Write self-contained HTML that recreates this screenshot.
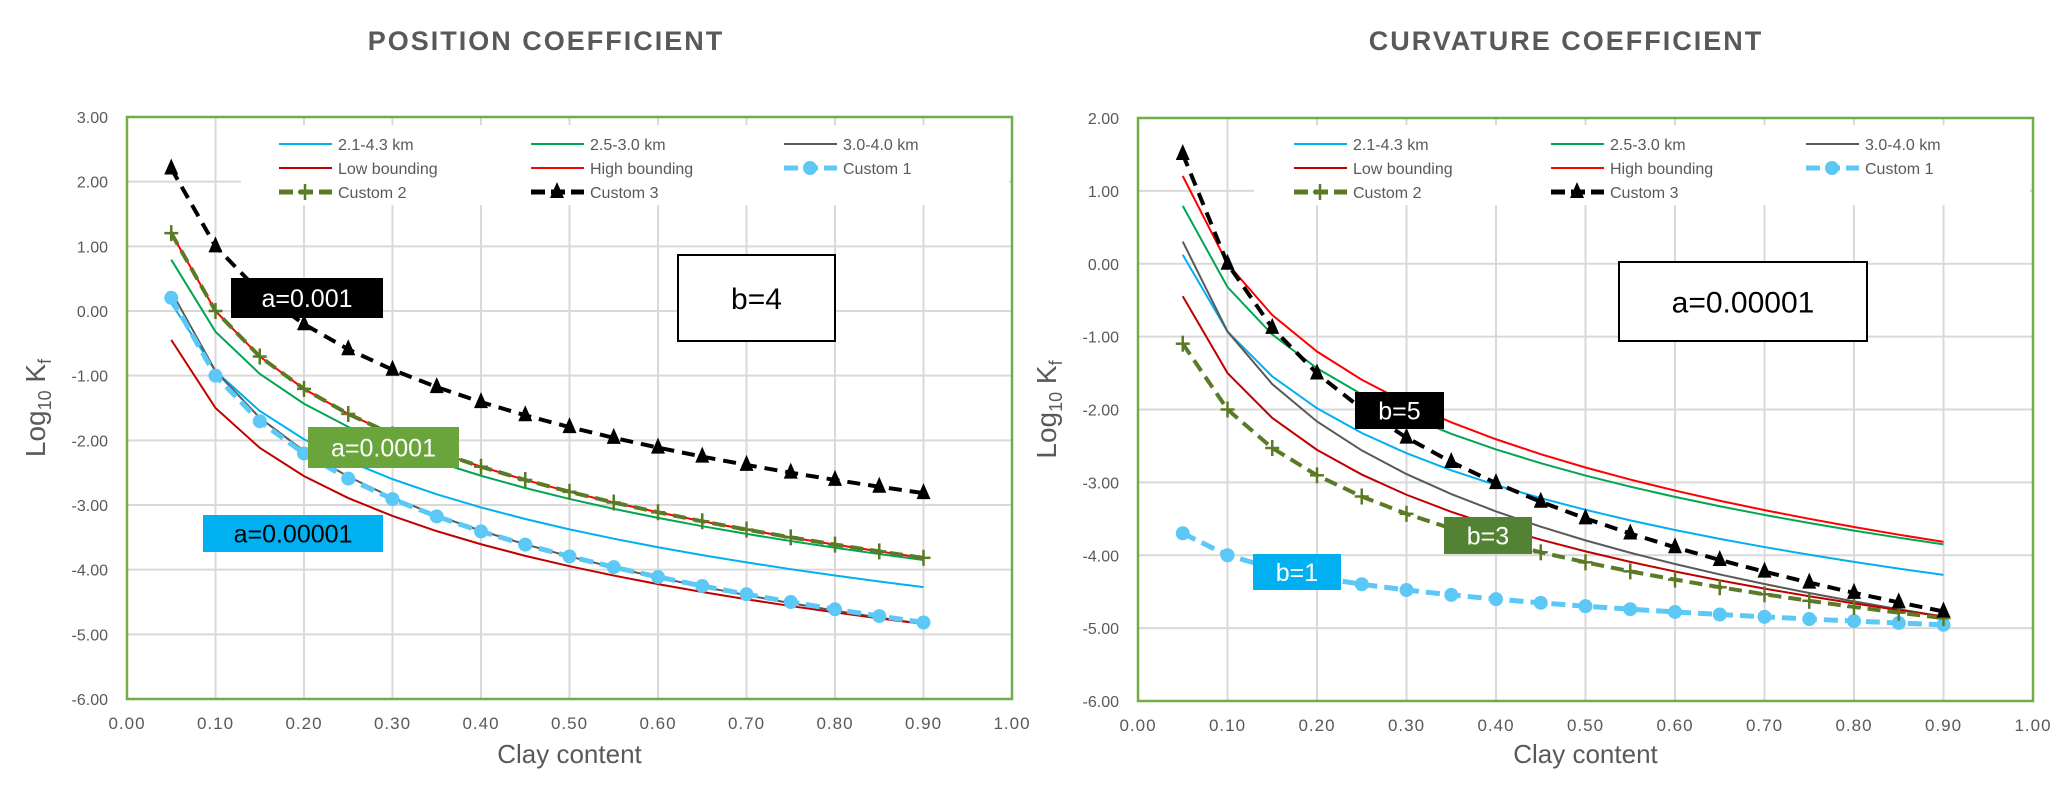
<!DOCTYPE html>
<html><head><meta charset="utf-8">
<style>
html,body{margin:0;padding:0;background:#fff;}
svg{display:block;font-family:"Liberation Sans",sans-serif;}
</style></head>
<body>
<svg id="s" width="2062" height="787" viewBox="0 0 2062 787" xmlns="http://www.w3.org/2000/svg">
<text x="546" y="50" text-anchor="middle" font-size="27" font-weight="bold" fill="#595959" letter-spacing="2">POSITION  COEFFICIENT</text>
<text x="1566" y="50" text-anchor="middle" font-size="27" font-weight="bold" fill="#595959" letter-spacing="2">CURVATURE  COEFFICIENT</text>
</svg>
<script>
const S=document.getElementById('s');const NS='http://www.w3.org/2000/svg';
function el(t,a,txt){const e=document.createElementNS(NS,t);for(const k in a)e.setAttribute(k,a[k]);if(txt!==undefined)e.textContent=txt;S.appendChild(e);return e;}
const lg=Math.log10;
function chart(c){
 const X=v=>c.x0+(c.x1-c.x0)*v, Y=v=>c.yt+(c.yb-c.yt)*(c.ymax-v)/(c.ymax-c.ymin);
 for(let i=0;i<=10;i++){const x=X(i/10);el('line',{x1:x,x2:x,y1:c.yt,y2:c.yb,stroke:'#d9d9d9','stroke-width':2});
  el('text',{x:x,y:c.yb+30,'text-anchor':'middle','font-size':17,fill:'#595959','letter-spacing':'1'},(i/10).toFixed(2));}
 for(let v=c.ymin;v<=c.ymax;v++){const y=Y(v);el('line',{x1:c.x0,x2:c.x1,y1:y,y2:y,stroke:'#d9d9d9','stroke-width':2});
  el('text',{x:c.x0-19,y:y+6,'text-anchor':'end','font-size':16,fill:'#595959'},v.toFixed(2));}
 el('rect',{x:c.lgx,y:125,width:c.x1-c.lgx-3,height:80,fill:'#fff'});
 const xs=[];for(let i=1;i<=18;i++)xs.push(i*0.05);
 const thin=[['#00b0f0',-4.43,3.5],['#00a651',-4.02,3.7],['#595959',-5.03,4.1],['#c00000',-5,3.5],['#ff0000',-4,4]];
 thin.forEach(t=>el('polyline',{points:xs.map(x=>X(x)+','+Y(t[1]-t[2]*lg(x))).join(' '),fill:'none',stroke:t[0],'stroke-width':2}));
 c.cust.forEach(cu=>{
  const pts=xs.map(x=>[X(x),Y(lg(cu.a)-cu.b*lg(x))]);
  el('polyline',{points:pts.map(p=>p.join(',')).join(' '),fill:'none',stroke:cu.col,'stroke-width':cu.w,'stroke-dasharray':cu.da});
  pts.forEach(p=>marker(cu.m,p[0],p[1],cu.col));
 });
 el('rect',{x:c.x0,y:c.yt,width:c.x1-c.x0,height:c.yb-c.yt,fill:'none',stroke:'#70ad47','stroke-width':2.5});
 // legend
 const L=[['2.1-4.3 km','#00b0f0','t'],['2.5-3.0 km','#00a651','t'],['3.0-4.0 km','#595959','t'],['Low bounding','#c00000','t'],['High bounding','#ff0000','t'],['Custom 1','#5bc8f5','c'],['Custom 2','#5a7a26','p'],['Custom 3','#000','tr']];
 L.forEach((l,i)=>{const lx=c.cols[i%3],ly=[144,168,192][Math.floor(i/3)];
  if(l[2]=='t')el('line',{x1:lx,x2:lx+53,y1:ly,y2:ly,stroke:l[1],'stroke-width':2});
  else{el('line',{x1:lx,x2:lx+53,y1:ly,y2:ly,stroke:l[1],'stroke-width':5,'stroke-dasharray':'14,6'});marker(l[2],lx+26,ly,l[1]);}
  el('text',{x:lx+59,y:ly+6,'font-size':16,fill:'#595959'},l[0]);});
 el('text',{x:(c.x0+c.x1)/2,y:763,'text-anchor':'middle','font-size':26,fill:'#595959'},'Clay content');
 const t=el('text',{x:0,y:0,'font-size':28,fill:'#595959',transform:`translate(${c.x0-82},${(c.yt+c.yb)/2}) rotate(-90)`,'text-anchor':'middle'});
 t.innerHTML='Log<tspan font-size="18" dy="6">10</tspan><tspan dy="-6"> K</tspan><tspan font-size="18" dy="6">f</tspan>';
}
function marker(m,x,y,col){
 if(m=='c')el('circle',{cx:x,cy:y,r:7,fill:col});
 else if(m=='p'){el('line',{x1:x-7,x2:x+7,y1:y,y2:y,stroke:col,'stroke-width':2.5});el('line',{x1:x,x2:x,y1:y-8,y2:y+8,stroke:col,'stroke-width':2.5});}
 else if(m=='tr')el('polygon',{points:`${x},${y-10} ${x-7},${y+6} ${x+7},${y+6}`,fill:col});
}
chart({x0:127,x1:1012,yt:117,yb:699,ymax:3,ymin:-6,lgx:241,cols:[279,531,784],
 cust:[{a:1e-5,b:4,col:'#5bc8f5',w:5,da:'14,7',m:'c'},{a:1e-4,b:4,col:'#5a7a26',w:4,da:'13,7',m:'p'},{a:1e-3,b:4,col:'#000',w:4,da:'13,8',m:'tr'}]});
chart({x0:1138,x1:2033,yt:118,yb:701,ymax:2,ymin:-6,lgx:1254,cols:[1294,1551,1806],
 cust:[{a:1e-5,b:1,col:'#5bc8f5',w:5,da:'14,7',m:'c'},{a:1e-5,b:3,col:'#5a7a26',w:4,da:'13,7',m:'p'},{a:1e-5,b:5,col:'#000',w:4,da:'13,8',m:'tr'}]});
function box(x,y,w,h,bg,fg,txt,fs,border){
 el('rect',{x:x,y:y,width:w,height:h,fill:bg,stroke:border?'#000':'none','stroke-width':2});
 el('text',{x:x+w/2,y:y+h/2+fs*0.36,'text-anchor':'middle','font-size':fs,fill:fg},txt);}
box(231,278,152,40,'#000','#fff','a=0.001',25);
box(308,427,151,41,'#6aa53c','#fff','a=0.0001',25);
box(203,515,180,37,'#00b0f0','#000','a=0.00001',25);
box(678,255,157,86,'#fff','#000','b=4',30,1);
box(1619,262,248,79,'#fff','#000','a=0.00001',30,1);
box(1355,392,89,37,'#000','#fff','b=5',25);
box(1444,517,88,37,'#548235','#fff','b=3',25);
box(1253,554,88,36,'#00b0f0','#fff','b=1',25);
</script>
</body></html>
